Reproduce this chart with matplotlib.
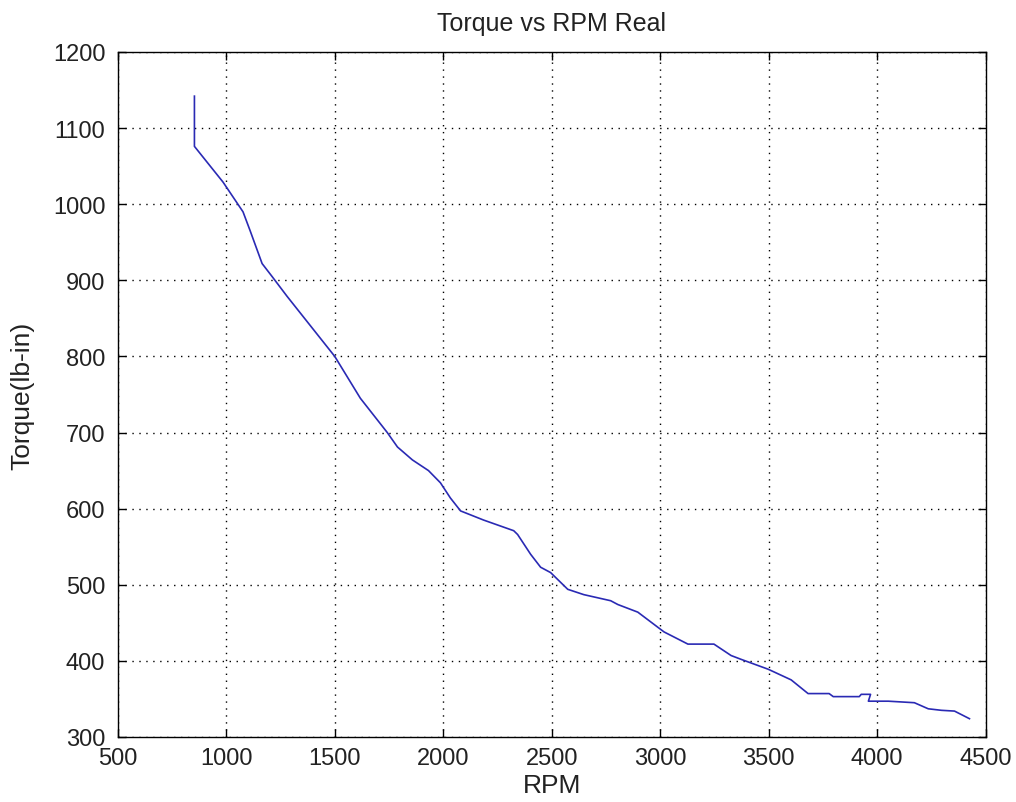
import matplotlib.pyplot as plt

rpm = [853, 853, 985, 1077, 1110, 1165, 1211, 1280, 1500, 1618, 1742, 1789,
       1858, 1932, 1987, 2033, 2080, 2186, 2325, 2343, 2403, 2449, 2495, 2574,
       2648, 2772, 2805, 2897, 2990, 3018, 3128, 3248, 3327, 3373, 3498, 3604,
       3682, 3779, 3798, 3918, 3927, 3970, 3960, 4052, 4172, 4236, 4297, 4357,
       4426]
torque = [1142, 1076, 1029, 990, 965, 922, 905, 879, 800, 745, 700, 681,
          664, 650, 634, 614, 597, 585, 571, 566, 540, 523, 516, 494,
          487, 479, 474, 464, 444, 438, 422, 422, 407, 402, 389, 375,
          357, 357, 353, 353, 356, 356, 347, 347, 345, 337, 335, 334,
          324]

plt.rcParams['font.family'] = ['Liberation Sans', 'DejaVu Sans']

fig = plt.figure(figsize=(10.16, 8.03), dpi=100)
ax = fig.add_axes([0.116, 0.081, 0.854, 0.853])

ax.plot(rpm, torque, color='#2a2ab4', linewidth=1.2)

ax.set_xlim(500, 4500)
ax.set_ylim(300, 1200)
ax.set_xticks(range(500, 4501, 500))
ax.set_yticks(range(300, 1201, 100))
ax.tick_params(direction='in', top=True, right=True, labelsize=17, length=6, width=1,
               labelcolor='#222222')
ax.tick_params(axis='x', pad=7)
ax.tick_params(axis='y', pad=9)
ax.grid(True, linestyle=(0, (1, 4)), color='black', linewidth=1)
for s in ax.spines.values():
    s.set_linewidth(1)

ax.set_title('Torque vs RPM Real', fontsize=18, pad=16, color='#222222')
ax.set_xlabel('RPM', fontsize=19, labelpad=3, color='#222222')
ax.set_ylabel('Torque(lb-in)', fontsize=19, labelpad=13, color='#222222')

plt.savefig('out.png', dpi=100)
